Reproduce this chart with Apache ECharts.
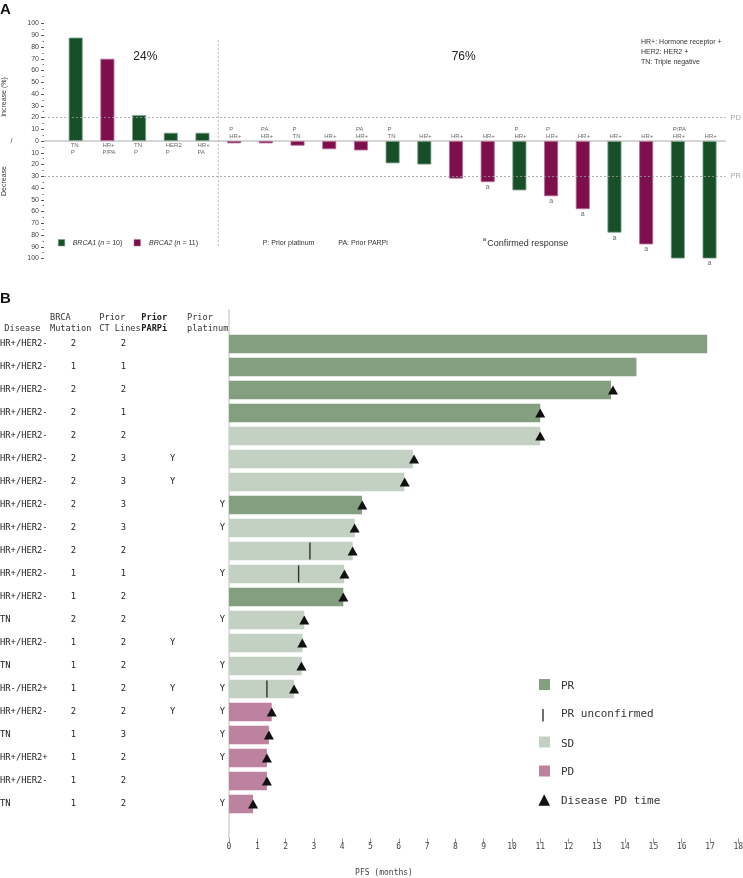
<!DOCTYPE html>
<html>
<head>
<meta charset="utf-8">
<script src="https://cdn.jsdelivr.net/npm/echarts@6/dist/echarts.min.js"></script>
<style>
html,body{margin:0;padding:0;background:#fff;}
#chart{width:743px;height:878px;}
</style>
</head>
<body>
<div id="chart"></div>
<script>
// ---------- Panel A data ----------
const brcaA = [1,2,1,1,1, 2,2,2,2,2, 1,1,2,2,1, 2,2,1,2,1,1];
const changeA = [88,70,22,7,7,-2,-2,-4,-7,-8,-19,-20,-32,-35,-42,-47,-58,-78,-88,-100,-100];
const priorA = ['P','P/PA','P','P','PA','P','PA','P','','PA','P','','','','P','P','','','','P/PA',''];
const subtypeA = ['TN','HR+','TN','HER2','HR+','HR+','HR+','TN','HR+','HR+','TN','HR+','HR+','HR+','HR+','HR+','HR+','HR+','HR+','HR+','HR+'];
const confirmedA = [0,0,0,0,0,0,0,0,0,0,0,0,0,1,0,1,1,1,1,0,1];
const thresholdsA = [{v:20, name:'PD'}, {v:-30, name:'PR'}];
const splitLineA = [[4.5, 86], [4.5, -90]];

// ---------- Panel B data ----------
const disease = ['HR+/HER2-','HR+/HER2-','HR+/HER2-','HR+/HER2-','HR+/HER2-','HR+/HER2-','HR+/HER2-','HR+/HER2-','HR+/HER2-','HR+/HER2-','HR+/HER2-','HR+/HER2-','TN','HR+/HER2-','TN','HR-/HER2+','HR+/HER2-','TN','HR+/HER2+','HR+/HER2-','TN'];
const brcaMut = ['2','1','2','2','2','2','2','2','2','2','1','1','2','1','1','1','2','1','1','1','1'];
const ctLines = ['2','1','2','1','2','3','3','3','3','2','1','2','2','2','2','2','2','3','2','2','2'];
const priorParpi = ['','','','','','Y','Y','','','','','','','Y','','Y','Y','','','',''];
const priorPlatinum = ['','','','','','','','Y','Y','','Y','','Y','','Y','Y','Y','Y','Y','','Y'];
const response = ['PR','PR','PR','PR','SD','SD','SD','PR','SD','SD','SD','PR','SD','SD','SD','SD','PD','PD','PD','PD','PD'];
const pfs = [16.9,14.4,13.5,11.0,11.0,6.5,6.2,4.7,4.45,4.37,4.07,4.04,2.66,2.6,2.57,2.3,1.51,1.41,1.34,1.34,0.85];
const pdTime = [null,null,13.57,11.0,11.0,6.54,6.21,4.71,4.44,4.37,4.08,4.04,2.66,2.59,2.56,2.3,1.51,1.41,1.34,1.34,0.85];
const unconfX = [2.86, 2.46, 1.34];
const unconfRow = [10, 11, 16];

const brcaColor = {1:'#174f28', 2:'#7e0f4d'};
const brcaBorder = {1:'#7fa58a', 2:'#b9709a'};
const respColor = {PR:'#849f80', SD:'#c3d1c2', PD:'#be82a1'};

const SANS = 'Liberation Sans, Arial, sans-serif';
const MONO = 'DejaVu Sans Mono, monospace';

const chart = echarts.init(document.getElementById('chart'), null, {renderer:'canvas'});

const pad = arr => [''].concat(arr).concat(['']);
const rowCats = pad(disease.map((d,i)=>String(i+1)));

function tableAxis(data, align, margin){
  return {
    gridIndex:1, type:'category', inverse:true, data:pad(data), position:'left',
    axisLine:{show:false}, axisTick:{show:false}, splitLine:{show:false},
    axisLabel:{show:true, interval:0, align:align, margin:margin, fontFamily:MONO, fontSize:8.8, color:'#222'}
  };
}

const option = {
  animation:false,
  grid:[
    {left:44, top:23.5, width:681.4, height:235, outerBoundsMode:'none', containLabel:false},
    {left:229, top:309.5, width:509.3, height:529, outerBoundsMode:'none', containLabel:false}
  ],
  xAxis:[
    {gridIndex:0, type:'value', min:-1, max:20.5,
     axisLine:{show:true, onZero:true, lineStyle:{color:'#c8c8c8', width:1.5}},
     axisTick:{show:false}, axisLabel:{show:false}, splitLine:{show:false}},
    {gridIndex:1, type:'value', min:0, max:18, interval:1,
     axisLine:{show:false}, axisTick:{show:true, length:5, lineStyle:{color:'#999'}},
     axisLabel:{fontFamily:MONO, fontSize:8, color:'#444', margin:4},
     splitLine:{show:false}}
  ],
  yAxis:[
    {gridIndex:0, type:'value', min:-100, max:100, interval:10,
     axisLine:{show:false, onZero:false},
     axisTick:{show:true, length:3, lineStyle:{color:'#555'}},
     minorTick:{show:true, splitNumber:2, length:1.5, lineStyle:{color:'#777'}},
     axisLabel:{fontFamily:SANS, fontSize:7, color:'#444', margin:5, formatter:v=>String(Math.abs(v))},
     splitLine:{show:false}},
    {gridIndex:1, type:'category', inverse:true, data:rowCats,
     axisLine:{show:true, onZero:false, lineStyle:{color:'#d4d4d4', width:1.5}},
     axisTick:{show:false}, axisLabel:{show:false}, splitLine:{show:false}},
    tableAxis(disease, 'left', 229),
    tableAxis(brcaMut, 'center', 155.7),
    tableAxis(ctLines, 'center', 105.7),
    tableAxis(priorParpi, 'center', 56.3),
    tableAxis(priorPlatinum, 'center', 6.7)
  ],
  series:[
    // Panel A waterfall bars
    {type:'bar', xAxisIndex:0, yAxisIndex:0, barWidth:14,
     data: changeA.map((v,i)=>({value:[i,v], itemStyle:{color:brcaColor[brcaA[i]], borderColor:brcaBorder[brcaA[i]], borderWidth:0.8}})),
     markLine:{silent:true, symbol:'none',
       lineStyle:{type:[2,2], color:'#9a9a9a', width:0.8},
       label:{position:'end', distance:5, color:'#aaa', fontFamily:SANS, fontSize:7.5, formatter:p=>p.name},
       data: thresholdsA.map(t=>({yAxis:t.v, name:t.name}))}
    },
    // Panel A category labels at zero line
    {type:'scatter', xAxisIndex:0, yAxisIndex:0, symbolSize:0, silent:true,
     data: changeA.map((v,i)=>{
       const pos = v >= 0 ? 'bottom' : 'top';
       const txt = v >= 0 ? (subtypeA[i] + (priorA[i] ? '\n'+priorA[i] : ''))
                          : ((priorA[i] ? priorA[i]+'\n' : '') + subtypeA[i]);
       return {value:[i,0], label:{show:true, position:pos, distance:1.5, align:'left', offset:[-5,0],
         formatter:txt, fontFamily:SANS, fontSize:6, lineHeight:6.5, color:'#444'}};
     })
    },
    // Panel A confirmed response markers
    {type:'scatter', xAxisIndex:0, yAxisIndex:0, symbolSize:0, silent:true,
     data: changeA.map((v,i)=>confirmedA[i] ? [i,v] : null).filter(d=>d),
     label:{show:true, position:'bottom', distance:1.5, formatter:'a', fontFamily:SANS, fontSize:7, color:'#444'}
    },
    // Panel A vertical separator
    {type:'line', xAxisIndex:0, yAxisIndex:0, data:splitLineA, symbol:'none', silent:true,
     lineStyle:{type:[2,2], color:'#aaa', width:0.8}},
    // Panel B swimmer bars
    {type:'bar', xAxisIndex:1, yAxisIndex:1, barWidth:18.5,
     data: pfs.map((v,i)=>({value:[v, i+1], itemStyle:{color:respColor[response[i]]}}))},
    // Panel B unconfirmed PR ticks
    {type:'scatter', xAxisIndex:1, yAxisIndex:1, symbol:'rect', symbolSize:[1.4,17], silent:true,
     itemStyle:{color:'#333', opacity:1},
     data: unconfX.map((x,k)=>[x, unconfRow[k]])},
    // Panel B PD time triangles
    {type:'scatter', xAxisIndex:1, yAxisIndex:1, symbol:'triangle', symbolSize:[10,9], silent:true,
     itemStyle:{color:'#111', opacity:1},
     data: pdTime.map((t,i)=>t===null?null:[t, i+1]).filter(d=>d)}
  ],
  graphic:[
    {type:'text', x:0, y:10, style:{text:'A', font:'bold 15px '+SANS, fill:'#111', textVerticalAlign:'middle'}},
    {type:'text', x:0, y:299, style:{text:'B', font:'bold 15px '+SANS, fill:'#111', textVerticalAlign:'middle'}},
    {type:'text', x:4, y:97, rotation:Math.PI/2, style:{text:'Increase (%)', font:'7px '+SANS, fill:'#333', textAlign:'center', textVerticalAlign:'middle'}},
    {type:'text', x:11.5, y:141, style:{text:'/', font:'7px '+SANS, fill:'#333', textAlign:'center', textVerticalAlign:'middle'}},
    {type:'text', x:4, y:181, rotation:Math.PI/2, style:{text:'Decrease', font:'7px '+SANS, fill:'#333', textAlign:'center', textVerticalAlign:'middle'}},
    {type:'text', x:145.3, y:57, style:{text:'24%', font:'12px '+SANS, fill:'#222', textAlign:'center', textVerticalAlign:'middle'}},
    {type:'text', x:463.7, y:57, style:{text:'76%', font:'12px '+SANS, fill:'#222', textAlign:'center', textVerticalAlign:'middle'}},
    {type:'text', x:641, y:42, style:{text:'HR+: Hormone receptor +', font:'7px '+SANS, fill:'#333', textVerticalAlign:'middle'}},
    {type:'text', x:641, y:52, style:{text:'HER2: HER2 +', font:'7px '+SANS, fill:'#333', textVerticalAlign:'middle'}},
    {type:'text', x:641, y:62, style:{text:'TN: Triple negative', font:'7px '+SANS, fill:'#333', textVerticalAlign:'middle'}},
    {type:'rect', shape:{x:58.3, y:239.5, width:6.5, height:6.5}, style:{fill:brcaColor[1], stroke:brcaBorder[1], lineWidth:0.6}},
    {type:'text', x:72.7, y:243.5, style:{text:'{i|BRCA1} ({i|n} = 10)', font:'7px '+SANS, fill:'#333', textVerticalAlign:'middle',
      rich:{i:{fontStyle:'italic', fontSize:7, fontFamily:SANS}}}},
    {type:'rect', shape:{x:134, y:239.5, width:6.5, height:6.5}, style:{fill:brcaColor[2], stroke:brcaBorder[2], lineWidth:0.6}},
    {type:'text', x:149, y:243.5, style:{text:'{i|BRCA2} ({i|n} = 11)', font:'7px '+SANS, fill:'#333', textVerticalAlign:'middle',
      rich:{i:{fontStyle:'italic', fontSize:7, fontFamily:SANS}}}},
    {type:'text', x:262.7, y:243.5, style:{text:'P: Prior platinum', font:'7px '+SANS, fill:'#333', textVerticalAlign:'middle'}},
    {type:'text', x:338.3, y:243.5, style:{text:'PA: Prior PARPi', font:'7px '+SANS, fill:'#333', textVerticalAlign:'middle'}},
    {type:'text', x:482.7, y:239.5, style:{text:'a', font:'6px '+SANS, fill:'#333', textVerticalAlign:'middle'}},
    {type:'text', x:487.3, y:243.5, style:{text:'Confirmed response', font:'9px '+SANS, fill:'#333', textVerticalAlign:'middle'}},
    // Panel B table headers
    {type:'text', x:50, y:318, style:{text:'BRCA', font:'8.6px '+MONO, fill:'#333', textVerticalAlign:'middle'}},
    {type:'text', x:99.3, y:318, style:{text:'Prior', font:'8.6px '+MONO, fill:'#333', textVerticalAlign:'middle'}},
    {type:'text', x:141.3, y:318, style:{text:'Prior', font:'bold 8.6px '+MONO, fill:'#222', textVerticalAlign:'middle'}},
    {type:'text', x:187, y:318, style:{text:'Prior', font:'8.6px '+MONO, fill:'#333', textVerticalAlign:'middle'}},
    {type:'text', x:4.3, y:329, style:{text:'Disease', font:'8.6px '+MONO, fill:'#333', textVerticalAlign:'middle'}},
    {type:'text', x:50, y:329, style:{text:'Mutation', font:'8.6px '+MONO, fill:'#333', textVerticalAlign:'middle'}},
    {type:'text', x:99.3, y:329, style:{text:'CT Lines', font:'8.6px '+MONO, fill:'#333', textVerticalAlign:'middle'}},
    {type:'text', x:141.3, y:329, style:{text:'PARPi', font:'bold 8.6px '+MONO, fill:'#222', textVerticalAlign:'middle'}},
    {type:'text', x:187, y:329, style:{text:'platinum', font:'8.6px '+MONO, fill:'#333', textVerticalAlign:'middle'}},
    // Panel B legend
    {type:'rect', shape:{x:539, y:679, width:11, height:11}, style:{fill:respColor.PR}},
    {type:'text', x:561, y:686, style:{text:'PR', font:'11px '+MONO, fill:'#333', textVerticalAlign:'middle'}},
    {type:'rect', shape:{x:542.3, y:709, width:1.4, height:12.5}, style:{fill:'#333'}},
    {type:'text', x:561, y:714.5, style:{text:'PR unconfirmed', font:'11px '+MONO, fill:'#333', textVerticalAlign:'middle'}},
    {type:'rect', shape:{x:539, y:736.5, width:11, height:11}, style:{fill:respColor.SD}},
    {type:'text', x:561, y:744, style:{text:'SD', font:'11px '+MONO, fill:'#333', textVerticalAlign:'middle'}},
    {type:'rect', shape:{x:539, y:765.5, width:11, height:11}, style:{fill:respColor.PD}},
    {type:'text', x:561, y:772.5, style:{text:'PD', font:'11px '+MONO, fill:'#333', textVerticalAlign:'middle'}},
    {type:'polygon', shape:{points:[[544.2,794.3],[538.4,805.7],[550,805.7]]}, style:{fill:'#111'}},
    {type:'text', x:561, y:801.5, style:{text:'Disease PD time', font:'11px '+MONO, fill:'#333', textVerticalAlign:'middle'}},
    {type:'text', x:384, y:873, style:{text:'PFS (months)', font:'8px '+MONO, fill:'#444', textAlign:'center', textVerticalAlign:'middle'}}
  ]
};
chart.setOption(option);
</script>
</body>
</html>
